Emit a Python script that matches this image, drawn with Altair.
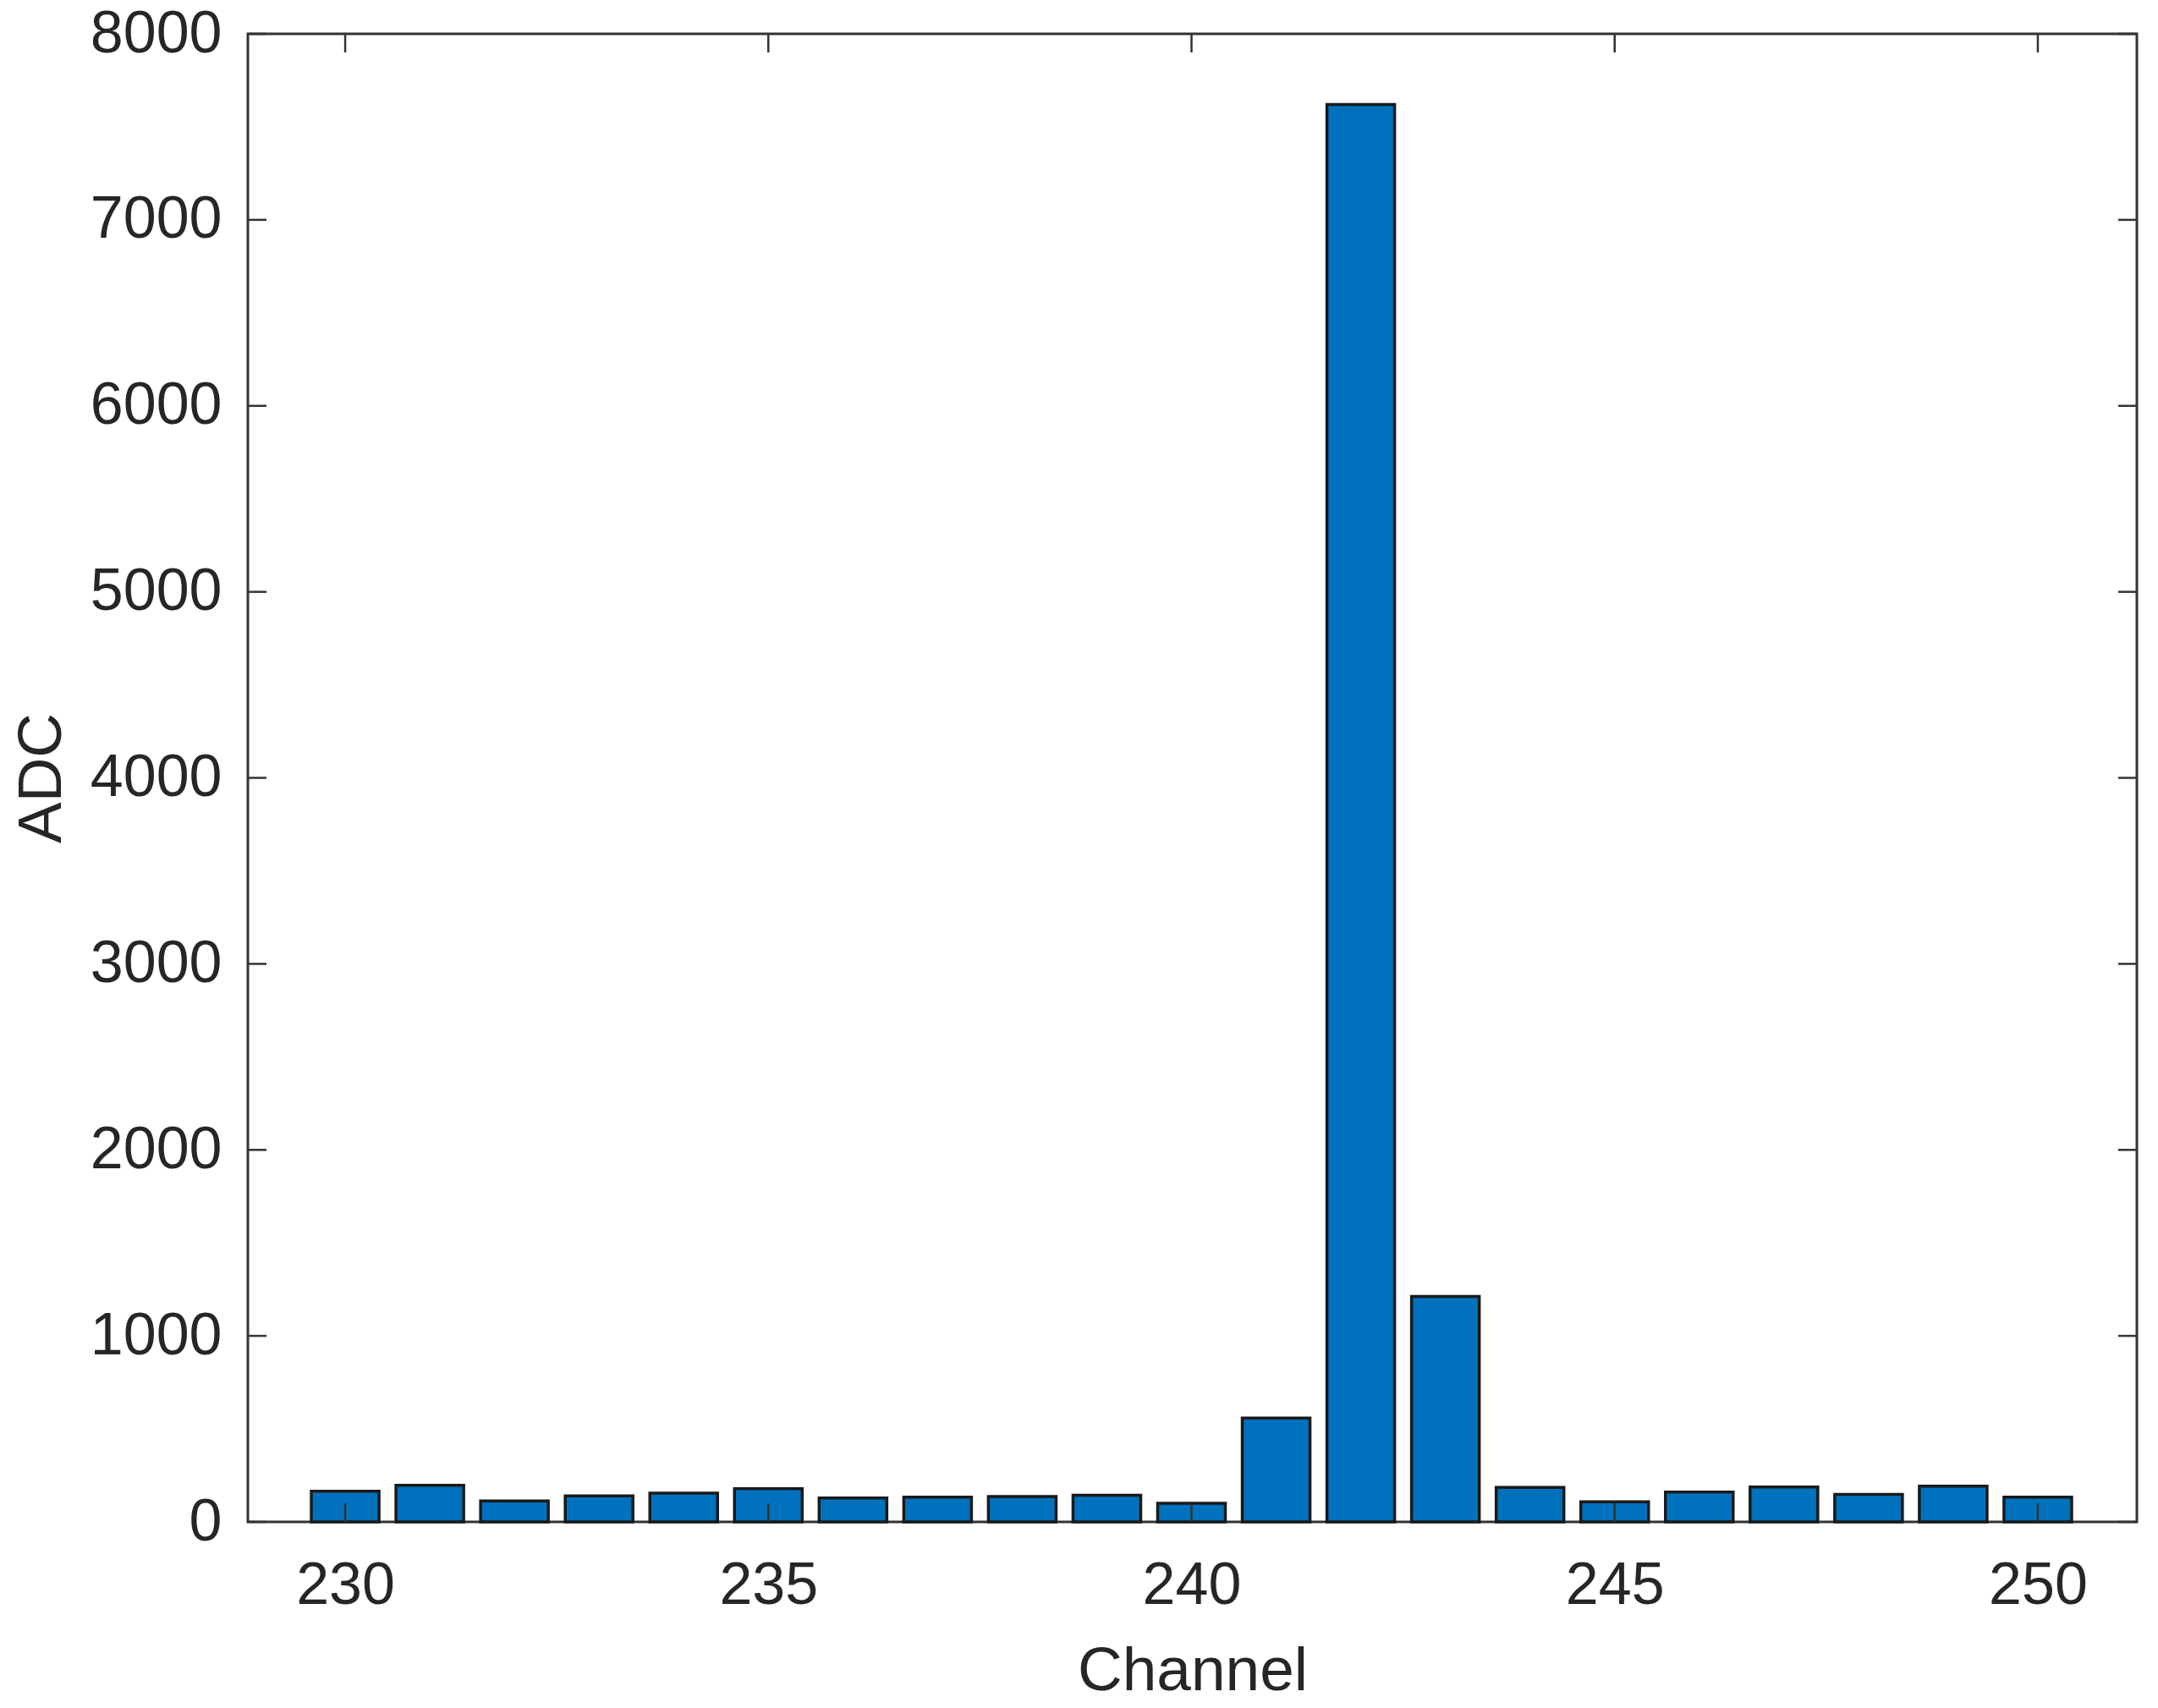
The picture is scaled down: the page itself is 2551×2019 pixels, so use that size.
import altair as alt
import pandas as pd

channels = list(range(230, 251))
adc = [165, 197, 112, 140, 155, 178, 128, 133, 136, 143, 100,
       558, 7620, 1212, 185, 108, 160, 188, 148, 192, 133]
x_tick_values = [230, 235, 240, 245, 250]
y_tick_values = [0, 1000, 2000, 3000, 4000, 5000, 6000, 7000, 8000]

W, H = 2233, 1759
TL = 22
FONT = "Liberation Sans"
TXT = "#262626"
AX = "#333333"
LFS = 70

bars_df = pd.DataFrame({"Channel": channels, "ADC": adc})
xt_df = pd.DataFrame({"Channel": x_tick_values})
yt_df = pd.DataFrame({"ADC": y_tick_values})

xscale = alt.Scale(domain=[228.85, 251.17], nice=False, zero=False)
yscale = alt.Scale(domain=[0, 8000], nice=False)

xaxis = alt.Axis(values=x_tick_values, ticks=False, tickSize=0, grid=False,
                 domain=False, labelFontSize=LFS, labelPadding=41, format="d",
                 labelFont=FONT, labelColor=TXT, title="Channel",
                 titleFont=FONT, titleFontSize=73, titleFontWeight="normal",
                 titleColor=TXT, titleBaseline="alphabetic",
                 titleY=198, titleX=W / 2)
yaxis = alt.Axis(values=y_tick_values, ticks=False, tickSize=0, grid=False,
                 domain=False, labelFontSize=LFS, labelPadding=31, format="d",
                 labelFont=FONT, labelColor=TXT, title="ADC",
                 titleFont=FONT, titleFontSize=73, titleFontWeight="normal",
                 titleColor=TXT, titleBaseline="middle", titleAngle=-90,
                 titleX=-244, titleY=H / 2)

bars = alt.Chart(bars_df).transform_calculate(
    x0="datum.Channel - 0.4", x1="datum.Channel + 0.4"
).mark_bar(color="#0072BD", stroke="#1a1a1a", strokeWidth=3.5).encode(
    x=alt.X("x0:Q", scale=xscale, axis=xaxis, title="Channel"),
    x2="x1:Q",
    y=alt.Y("ADC:Q", scale=yscale, axis=yaxis, title="ADC"),
    y2=alt.datum(0),
)

xb = alt.Chart(xt_df).mark_rule(color=AX, strokeWidth=2.5).encode(
    x=alt.X("Channel:Q", scale=xscale, axis=xaxis, title="Channel"),
    y=alt.value(H), y2=alt.value(H - TL))
xtop = alt.Chart(xt_df).mark_rule(color=AX, strokeWidth=2.5).encode(
    x=alt.X("Channel:Q", scale=xscale, axis=xaxis, title="Channel"),
    y=alt.value(0), y2=alt.value(TL))
yl = alt.Chart(yt_df).mark_rule(color=AX, strokeWidth=2.5).encode(
    y=alt.Y("ADC:Q", scale=yscale, axis=yaxis, title="ADC"),
    x=alt.value(0), x2=alt.value(TL))
yr = alt.Chart(yt_df).mark_rule(color=AX, strokeWidth=2.5).encode(
    y=alt.Y("ADC:Q", scale=yscale, axis=yaxis, title="ADC"),
    x=alt.value(W), x2=alt.value(W - TL))

chart = alt.layer(bars, xb, xtop, yl, yr).properties(
    width=W, height=H,
    background="white",
    autosize=alt.AutoSizeParams(type="none"),
    padding={"left": 285, "top": 32, "right": 17, "bottom": 212},
).configure_view(stroke=AX, strokeWidth=3)

chart.save("out.html", embed_options={"renderer": "svg", "actions": False})
